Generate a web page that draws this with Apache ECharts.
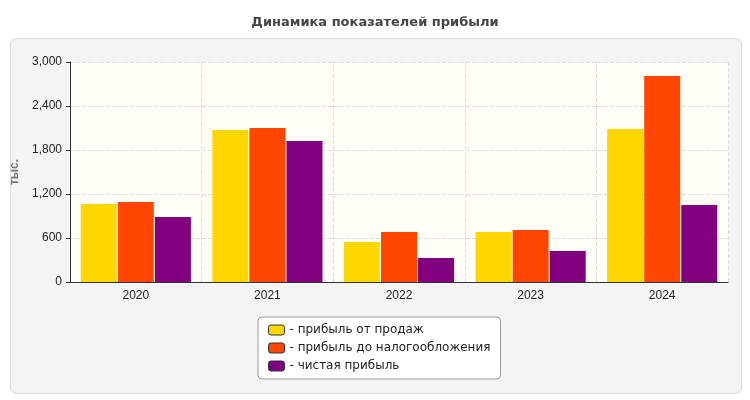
<!DOCTYPE html>
<html><head><meta charset="utf-8">
<script src="https://cdn.jsdelivr.net/npm/echarts@6/dist/echarts.min.js"></script>
<style>html,body{margin:0;padding:0;background:#fff}
#panel{position:absolute;left:10px;top:38px;width:730px;height:354px;background:#f4f4f4;border:1px solid #ddd;border-radius:6px}
#c{position:absolute;left:0;top:0;width:750px;height:400px}</style>
</head><body><div id="panel"></div><div id="c"></div>
<script>
const categories=['2020','2021','2022','2023','2024'];
const salesProfit=[1064,2073,545,682,2086];
const pretaxProfit=[1091,2100,682,709,2809];
const netProfit=[886,1923,327,423,1050];
const seriesNames=['- прибыль от продаж','- прибыль до налогообложения','- чистая прибыль'];
const colors=['#FFD700','#FF4500','#800080'];
const chart=echarts.init(document.getElementById('c'));
chart.setOption({
 animation:false,
 title:{text:'Динамика показателей прибыли',left:'center',top:11,textStyle:{fontSize:13,fontWeight:'bold',color:'#444',fontFamily:'DejaVu Sans'}},
 grid:{left:70,right:22,top:62,bottom:118,show:true,backgroundColor:'#fffff7',borderWidth:0},
 legend:{orient:'vertical',left:258,top:317,width:232,height:64,padding:[7,10,7,10],backgroundColor:'#fff',borderColor:'#999',borderWidth:1,borderRadius:4,itemWidth:16,itemHeight:10,itemGap:6,icon:'roundRect',itemStyle:{borderColor:'#333',borderWidth:1},textStyle:{fontSize:12,color:'#222',fontFamily:'DejaVu Sans'},data:seriesNames},
 xAxis:{type:'category',data:categories,axisLine:{lineStyle:{color:'#333'}},axisTick:{show:false},axisLabel:{fontSize:12,color:'#222'},splitLine:{show:true,lineStyle:{type:'dashed',color:'#ddd'}}},
 yAxis:{type:'value',min:0,max:3000,interval:600,name:'тыс.',nameLocation:'middle',nameGap:45,nameTextStyle:{fontSize:12,fontWeight:'bold',color:'#777'},axisLine:{show:true,lineStyle:{color:'#333'}},axisTick:{show:true,length:4},axisLabel:{fontSize:12,color:'#222'},splitLine:{lineStyle:{type:'dashed',color:'#ddd'}}},
 series:[salesProfit,pretaxProfit,netProfit].map((d,i)=>({name:seriesNames[i],type:'bar',data:d,barWidth:36,barGap:'3%',itemStyle:{color:colors[i]}}))
});
</script></body></html>
